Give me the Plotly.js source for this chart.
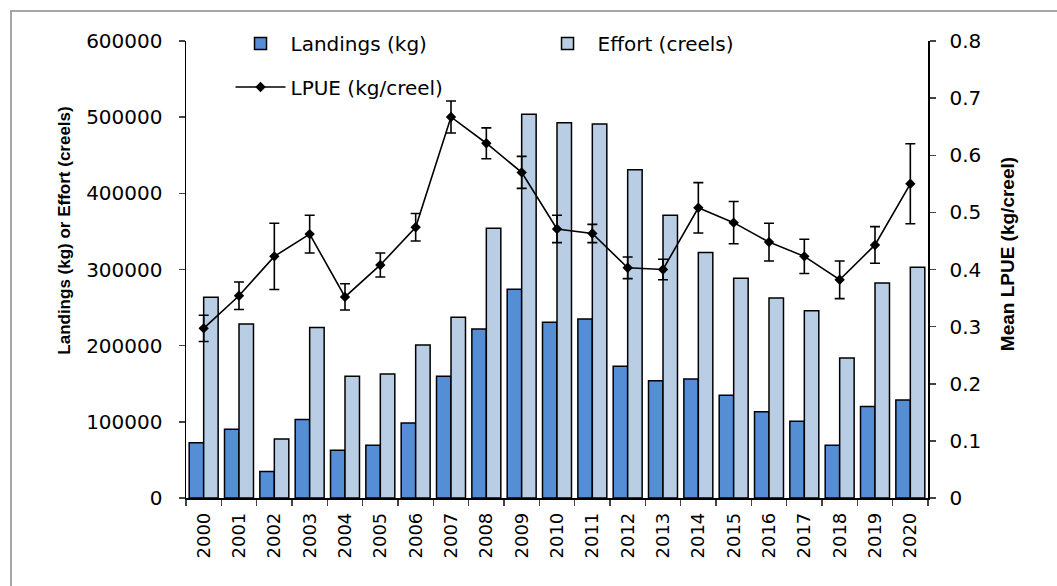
<!DOCTYPE html>
<html>
<head>
<meta charset="utf-8">
<script src="https://cdn.plot.ly/plotly-3.0.1.min.js"></script>
<style>
  html, body { margin: 0; padding: 0; background: #ffffff; }
  #chart { width: 1057px; height: 586px; position: relative; }
  #frame { position: absolute; left: 10px; top: 10px; width: 1100px; height: 700px;
           border-left: 2px solid #a6a6a6; border-top: 2px solid #a6a6a6; pointer-events: none; }
</style>
</head>
<body>
<div id="chart"></div>
<div id="frame"></div>
<script>
const years = ['2000','2001','2002','2003','2004','2005','2006','2007','2008','2009','2010',
               '2011','2012','2013','2014','2015','2016','2017','2018','2019','2020'];
const landings = [72700, 90200, 34700, 103000, 62600, 69200, 98500, 160000, 222000, 274000, 230700,
                  235000, 172900, 154000, 156200, 134800, 113400, 100700, 69200, 120000, 128700];
const effort = [263500, 228400, 77500, 224000, 160000, 162800, 200900, 237200, 354000, 503700, 492800,
                491000, 431100, 371100, 322200, 288400, 262600, 246000, 183800, 282300, 302900];
const lpue = [0.297, 0.354, 0.423, 0.462, 0.352, 0.408, 0.474, 0.667, 0.621, 0.570, 0.471,
              0.463, 0.403, 0.400, 0.508, 0.482, 0.448, 0.423, 0.382, 0.443, 0.550];
const lpueErr = [0.023, 0.024, 0.058, 0.033, 0.023, 0.021, 0.024, 0.028, 0.027, 0.028, 0.024,
                 0.016, 0.019, 0.018, 0.044, 0.037, 0.033, 0.030, 0.033, 0.032, 0.070];

const FONT = 'DejaVu Sans, Liberation Sans, Arial, sans-serif';
const TFONT = 'Liberation Sans, Arial, sans-serif';

const traces = [
  {
    type: 'bar', name: 'Landings (kg)', x: years, y: landings,
    marker: { color: '#558ed5', line: { color: '#000000', width: 1.5 } },
    legend: 'legend'
  },
  {
    type: 'bar', name: 'Effort (creels)', x: years, y: effort,
    marker: { color: '#b9cde5', line: { color: '#000000', width: 1.5 } },
    legend: 'legend'
  },
  {
    type: 'scatter', mode: 'lines+markers', name: 'LPUE (kg/creel)', x: years, y: lpue,
    yaxis: 'y2',
    line: { color: '#000000', width: 1.6 },
    marker: { symbol: 'diamond', size: 8, color: '#000000' },
    error_y: { type: 'data', array: lpueErr, visible: true, color: '#000000', thickness: 1.6, width: 5 },
    legend: 'legend2'
  }
];

const layout = {
  width: 1057, height: 586,
  margin: { l: 186, r: 129, t: 41, b: 88 },
  paper_bgcolor: '#ffffff', plot_bgcolor: '#ffffff',
  font: { family: FONT, color: '#000000', size: 19 },
  barmode: 'group', bargap: 0.18, bargroupgap: 0,
  showlegend: true,
  xaxis: {
    type: 'category', range: [-0.5, 20.5], tickangle: -90, ticks: 'outside', ticklen: 6, tickwidth: 1.5,
    tickson: 'boundaries', showline: true, linecolor: '#000000', linewidth: 1.5,
    showgrid: false, ticklabelstandoff: 6, tickfont: { family: FONT, size: 18, color: '#000000' }
  },
  yaxis: {
    range: [0, 600000], dtick: 100000, tickformat: 'd', ticks: 'outside', ticklen: 6, tickwidth: 1.5,
    showline: true, linecolor: '#000000', linewidth: 1.5, showgrid: false, zeroline: false,
    ticklabelstandoff: 12, tickfont: { family: FONT, size: 20, color: '#000000' }
  },
  yaxis2: {
    overlaying: 'y', side: 'right', range: [0, 0.8], dtick: 0.1, ticks: 'outside', ticklen: 6, tickwidth: 1.5,
    showline: true, linecolor: '#000000', linewidth: 1.5, showgrid: false, zeroline: false,
    ticklabelstandoff: 10, tickfont: { family: FONT, size: 20, color: '#000000' }
  },
  legend: {
    orientation: 'h', x: 0.06, xanchor: 'left', y: 1.037, yanchor: 'top',
    entrywidth: 242, bgcolor: 'rgba(0,0,0,0)', font: { family: FONT, size: 20, color: '#000000' },
    itemwidth: 50
  },
  legend2: {
    orientation: 'h', x: 0.06, xanchor: 'left', y: 0.942, yanchor: 'top',
    bgcolor: 'rgba(0,0,0,0)', font: { family: FONT, size: 20, color: '#000000' },
    itemwidth: 50
  },
  annotations: [
    {
      text: '<b>Landings (kg) or Effort (creels)</b>', xref: 'paper', yref: 'paper',
      x: -0.163, y: 0.585, xanchor: 'center', yanchor: 'middle', textangle: -90, showarrow: false,
      font: { family: TFONT, size: 17, color: '#000000' }
    },
    {
      text: '<b>Mean LPUE (kg/creel)</b>', xref: 'paper', yref: 'paper',
      x: 1.1075, y: 0.533, xanchor: 'center', yanchor: 'middle', textangle: -90, showarrow: false,
      font: { family: TFONT, size: 19, color: '#000000' }
    }
  ]
};

Plotly.newPlot('chart', traces, layout, { displayModeBar: false, staticPlot: true });
</script>
</body>
</html>
